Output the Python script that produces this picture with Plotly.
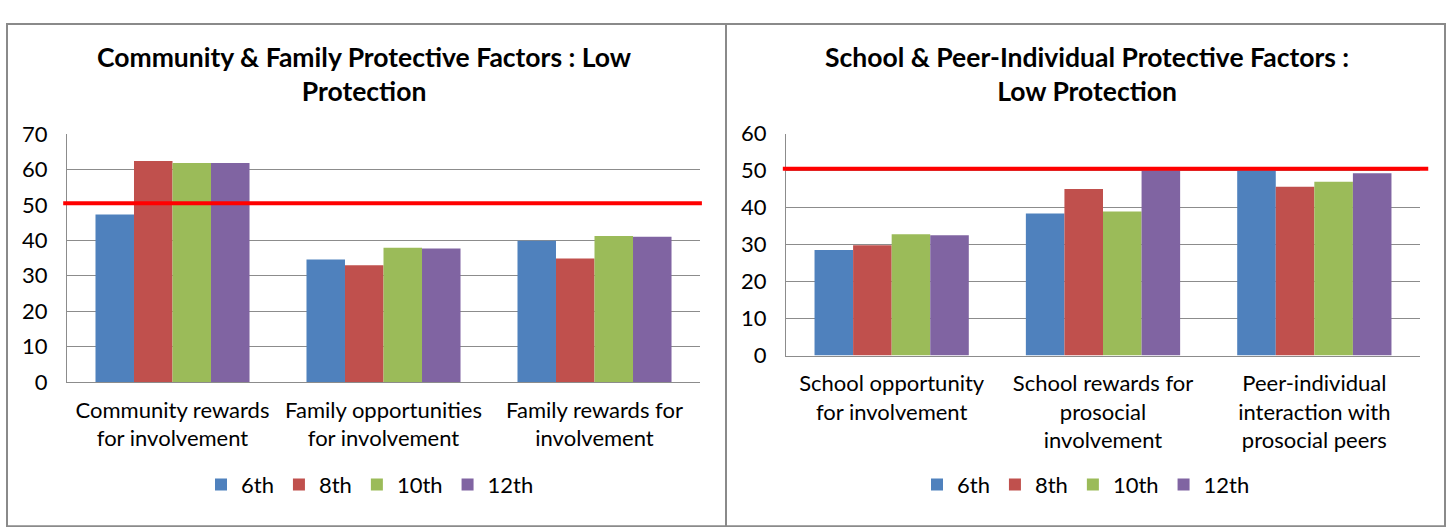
import plotly.graph_objects as go

W, H = 1447, 527

grades = ["6th", "8th", "10th", "12th"]
colors = ["#4F81BD", "#C0504D", "#9BBB59", "#8064A2"]

left_title = "Community & Family Protective Factors : Low<br>Protection"
left_categories = ["Community rewards<br>for involvement",
                   "Family opportunities<br>for involvement",
                   "Family rewards for<br>involvement"]
left_6th = [47.3, 34.6, 39.9]
left_8th = [62.4, 33.0, 34.9]
left_10th = [61.8, 37.9, 41.2]
left_12th = [61.8, 37.7, 41.0]

right_title = "School & Peer-Individual Protective Factors :<br>Low Protection"
right_categories = ["School opportunity<br>for involvement",
                    "School rewards for<br>prosocial<br>involvement",
                    "Peer-individual<br>interaction with<br>prosocial peers"]
right_6th = [28.5, 38.4, 50.1]
right_8th = [29.8, 45.0, 45.6]
right_10th = [32.8, 38.9, 47.0]
right_12th = [32.5, 50.1, 49.3]

threshold = 50.5
left_range = [0, 70]
right_range = [0, 60]

FONT = "Lato, Carlito, 'Noto Sans', sans-serif"

fig = go.Figure()

left_series = [left_6th, left_8th, left_10th, left_12th]
right_series = [right_6th, right_8th, right_10th, right_12th]

for g, c, vals in zip(grades, colors, left_series):
    fig.add_trace(go.Bar(x=left_categories, y=vals, name=g, marker=dict(color=c, line=dict(width=0)),
                         xaxis="x", yaxis="y", legend="legend"))
for g, c, vals in zip(grades, colors, right_series):
    fig.add_trace(go.Bar(x=right_categories, y=vals, name=g, marker=dict(color=c, line=dict(width=0)),
                         xaxis="x2", yaxis="y2", legend="legend2"))

def px_x(p):
    return p / W

def px_y(p):
    return 1 - p / H

grid = "#8C8C8C"
axis_common = dict(showgrid=False, showline=True, linecolor=grid, linewidth=1,
                   tickfont=dict(family=FONT, size=22, color="#000"), fixedrange=True,
                   ticklabelstandoff=8)
yaxis_common = dict(showgrid=True, gridcolor=grid, gridwidth=1, showline=True, linecolor=grid,
                    linewidth=1, ticks="", dtick=10,
                    tickfont=dict(family=FONT, size=22, color="#000"), zeroline=False,
                    ticklabelstandoff=14, fixedrange=True)

legend_common = dict(orientation="h", xanchor="center", yanchor="middle",
                     font=dict(family=FONT, size=22, color="#000"), bgcolor="rgba(0,0,0,0)")

fig.update_layout(
    width=W, height=H,
    margin=dict(l=0, r=0, t=0, b=0),
    paper_bgcolor="white", plot_bgcolor="white",
    barmode="group", bargap=0.27, bargroupgap=0,
    font=dict(family=FONT, color="#000"),
    xaxis=dict(domain=[px_x(67), px_x(700)], anchor="y", **axis_common),
    yaxis=dict(domain=[px_y(388), px_y(126.5)], anchor="x", range=left_range, **yaxis_common),
    xaxis2=dict(domain=[px_x(786), px_x(1420)], anchor="y2", **axis_common),
    yaxis2=dict(domain=[px_y(360), px_y(126)], anchor="x2", range=right_range, **yaxis_common),
    legend=dict(x=px_x(370), y=px_y(496), **legend_common),
    legend2=dict(x=px_x(1086), y=px_y(496), **legend_common),
    showlegend=True,
)

# titles
fig.add_annotation(text="<b>" + left_title.replace("<br>", "</b><br><b>") + "</b>",
                   xref="paper", yref="paper", x=px_x(364), y=px_y(63.5), xanchor="center",
                   yanchor="middle", showarrow=False, align="center",
                   font=dict(family=FONT, size=26.5, color="#000"))
fig.add_annotation(text="<b>" + right_title.replace("<br>", "</b><br><b>") + "</b>",
                   xref="paper", yref="paper", x=px_x(1087), y=px_y(63.5), xanchor="center",
                   yanchor="middle", showarrow=False, align="center",
                   font=dict(family=FONT, size=26.5, color="#000"))

# panel borders
border = "#8A8A8A"
fig.add_shape(type="rect", xref="paper", yref="paper", x0=px_x(7), x1=px_x(1445),
              y0=px_y(540), y1=px_y(10.5), line=dict(color=border, width=2), layer="below")
fig.add_shape(type="line", xref="paper", yref="paper", x0=px_x(726), x1=px_x(726),
              y0=px_y(540), y1=px_y(10.5), line=dict(color=border, width=2), layer="below")

# threshold lines
fig.add_shape(type="line", xref="x domain", yref="y", x0=-0.006, x1=1.003, y0=threshold, y1=threshold,
              line=dict(color="#FF0000", width=4))
fig.add_shape(type="line", xref="x2 domain", yref="y2", x0=-0.005, x1=1.013, y0=threshold, y1=threshold,
              line=dict(color="#FF0000", width=4))

fig.write_html("out.html", config={"displayModeBar": False},
               post_script="document.body.style.margin='0';document.body.style.overflow='hidden';")
